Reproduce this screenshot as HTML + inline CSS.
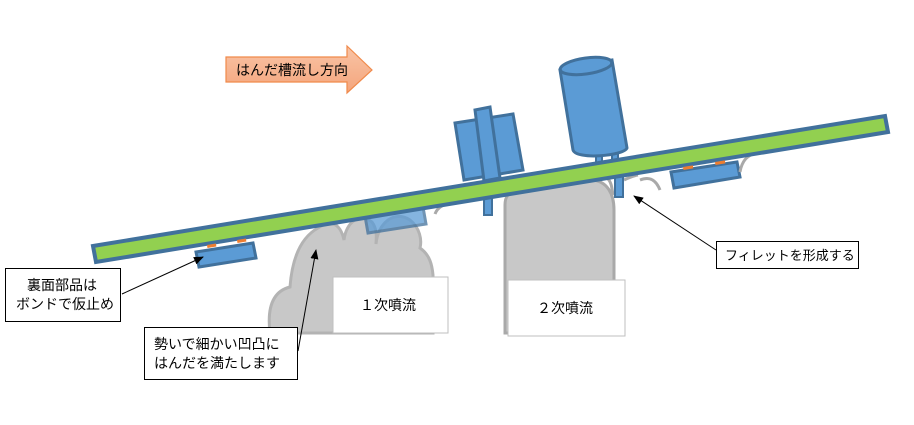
<!DOCTYPE html>
<html><head><meta charset="utf-8"><style>
body{margin:0;background:#fff;}
svg{display:block}
text{font-family:"Liberation Sans","Noto Sans CJK JP",sans-serif;font-size:14px;fill:#000}
</style></head><body>
<svg width="914" height="425" viewBox="0 0 914 425" xmlns="http://www.w3.org/2000/svg">
<defs>
<linearGradient id="og" x1="0" y1="0" x2="0" y2="1"><stop offset="0" stop-color="#f9c4a6"/><stop offset="1" stop-color="#f4a57c"/></linearGradient>
<marker id="ah" markerWidth="10" markerHeight="8" refX="9" refY="4" orient="auto" markerUnits="userSpaceOnUse"><path d="M0,0 L10,4 L0,8z" fill="#000"/></marker>
</defs>
<path d="M226,57 L347,57 L347,46 L372,70 L347,93 L347,82 L226,82z" fill="url(#og)" stroke="#f08a4b" stroke-width="1.2"/>
<text x="236" y="75">はんだ槽流し方向</text>

<path d="M270,333 C266,300 278,290 290,287 C292,260 300,238 318,228 C330,220 340,222 344,240 C346,222 360,212 372,222 C378,230 376,240 376,244 C378,222 395,210 410,220 C420,228 422,240 420,248 C430,255 432,265 433,275 L433,333z" fill="#c8c8c8" stroke="#b3b3b3" stroke-width="3"/>
<path d="M505,333 L505,205 C505,190 515,188 560,183 L590,180 C608,180 614,195 614,210 L614,333z" fill="#c8c8c8" stroke="#a9a9a9" stroke-width="3"/>

<polygon points="196,252 253,243 256,258 199,267" fill="#5b9bd5" stroke="#41719c" stroke-width="3"/>
<polygon points="365,216 423,207 426,224 368,233" fill="#5b9bd5" stroke="#41719c" stroke-width="3" opacity="0.75"/>
<polygon points="671,172 737,162 740,177 674,188" fill="#5b9bd5" stroke="#41719c" stroke-width="3"/>
<path d="M435,214 C438,206 445,204 452,203" fill="none" stroke="#a9a9a9" stroke-width="3"/>
<path d="M640,180 C650,176 656,180 660,190" fill="none" stroke="#a9a9a9" stroke-width="3"/>
<path d="M740,172 C742,160 748,155 756,153" fill="none" stroke="#a9a9a9" stroke-width="3"/>
<path d="M607,178 C612,182 612,190 613,195" fill="none" stroke="#a9a9a9" stroke-width="3"/>
<path d="M624,180 C628,178 632,176 638,175" fill="none" stroke="#a9a9a9" stroke-width="3"/>

<rect x="484" y="185" width="8" height="30" fill="#5b9bd5" stroke="#41719c" stroke-width="2"/>
<polygon points="455,123 513,114 523,170 464,180" fill="#5b9bd5" stroke="#41719c" stroke-width="3"/>
<polygon points="475,110 490,107 500,178 484,181" fill="#5b9bd5" stroke="#41719c" stroke-width="3"/>
<rect x="596" y="150" width="6" height="16" fill="#5b9bd5" stroke="#41719c" stroke-width="2"/>
<rect x="615" y="175" width="8" height="22" fill="#5b9bd5" stroke="#41719c" stroke-width="2"/>
<rect x="612" y="148" width="6" height="16" fill="#5b9bd5" stroke="#41719c" stroke-width="2"/>
<path d="M560,70 L573,150 C576,160 624,156 627,148 L612,60z" fill="#5b9bd5" stroke="#41719c" stroke-width="3"/>
<ellipse cx="586" cy="66" rx="26" ry="8" transform="rotate(-8 586 66)" fill="#5b9bd5" stroke="#41719c" stroke-width="3"/>

<polygon points="93,246 885,116 888,132 96,262" fill="#92d050" stroke="#41719c" stroke-width="4"/>

<rect x="207" y="245" width="9" height="3" fill="#ed7d31" transform="rotate(-9.3 207 245)"/>
<rect x="237" y="240" width="9" height="3" fill="#ed7d31" transform="rotate(-9.3 237 240)"/>
<rect x="683" y="167" width="10" height="3" fill="#ed7d31" transform="rotate(-9.3 683 167)"/>
<rect x="715" y="162" width="10" height="3" fill="#ed7d31" transform="rotate(-9.3 715 162)"/>

<rect x="333" y="277" width="115" height="56" fill="#fff" stroke="#bfbfbf"/>
<text x="360" y="310">１次噴流</text>
<rect x="508" y="280" width="117" height="56" fill="#fff" stroke="#bfbfbf"/>
<text x="537" y="313">２次噴流</text>

<line x1="122" y1="294" x2="203" y2="257" stroke="#000" marker-end="url(#ah)"/>
<rect x="5.5" y="268.5" width="115" height="53" fill="#fff" stroke="#000"/>
<text x="27" y="290">裏面部品は</text>
<text x="16" y="309">ボンドで仮止め</text>

<line x1="298" y1="351" x2="316" y2="250" stroke="#000" marker-end="url(#ah)"/>
<rect x="144.5" y="327.5" width="153" height="52" fill="#fff" stroke="#000"/>
<text x="154" y="349">勢いで細かい凹凸に</text>
<text x="154" y="368">はんだを満たします</text>

<line x1="716" y1="250" x2="634" y2="196" stroke="#000" marker-end="url(#ah)"/>
<rect x="716.5" y="241.5" width="142" height="27" fill="#fff" stroke="#000"/>
<text x="725" y="260" style="font-size:13px">フィレットを形成する</text>
</svg>
</body></html>
